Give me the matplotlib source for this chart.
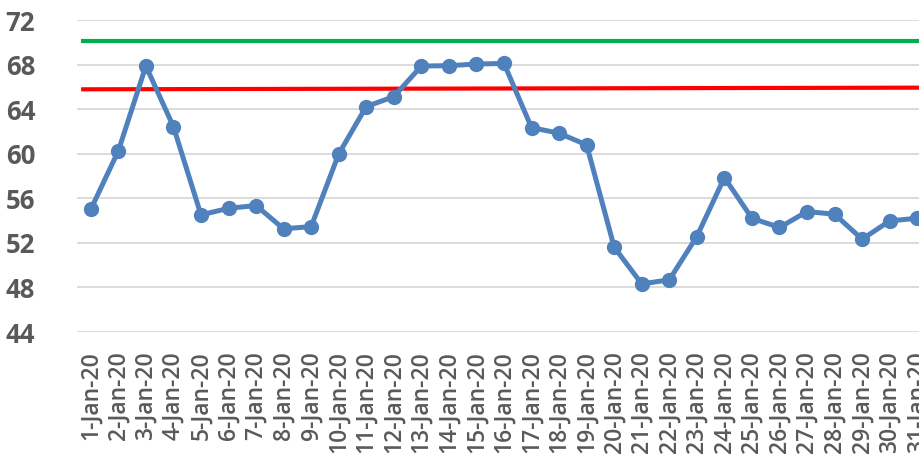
import numpy as np
import matplotlib.pyplot as plt

days = [f"{d}-Jan-20" for d in range(1, 32)]
values = [55.0, 60.25, 67.87, 62.43, 54.51, 55.1, 55.35, 53.26, 53.46, 59.98,
          64.23, 65.12, 67.87, 67.9, 68.05, 68.1, 62.34, 61.84, 60.79, 51.61,
          48.32, 48.68, 52.57, 57.86, 54.21, 53.38, 54.81, 54.57, 52.33, 53.97,
          54.21]
green_limit = [70.15, 70.15]
red_limit = [65.78, 65.93]
yticks = [44, 48, 52, 56, 60, 64, 68, 72]

fig = plt.figure(figsize=(9.19, 4.59), dpi=100)
ax = fig.add_axes([77 / 919, 127 / 459, 854 / 919, 312 / 459])

x = np.arange(len(values))
ax.set_xlim(-0.5, len(values) - 0.5)
ax.set_ylim(44, 72)

for y in yticks:
    ax.axhline(y, color='#d9d9d9', lw=1.3, zorder=0)

# limit lines span the plot width
lim_x = [-0.35, len(values) - 0.5]
ax.plot(lim_x, green_limit, color='#00b050', lw=3, solid_capstyle='butt', zorder=2)
ax.plot(lim_x, red_limit, color='#ff0000', lw=3, solid_capstyle='butt', zorder=2)

ax.plot(x, values, color='#4f81bd', lw=3.6, marker='o', ms=11,
        markeredgewidth=0, zorder=3)

ax.set_yticks(yticks)
ax.set_yticklabels([str(v) for v in yticks], family='Open Sans',
                   fontweight='bold', fontsize=18.5, color='#595959')
ax.set_xticks(x)
ax.set_xticklabels(days, rotation=90, family='Open Sans', fontsize=16.5,
                   fontweight='semibold', color='#595959', va='top')
ax.tick_params(axis='both', length=0)
ax.tick_params(axis='y', pad=30)
ax.tick_params(axis='x', pad=14)
for s in ax.spines.values():
    s.set_visible(False)

fig.savefig('out.png', dpi=100)
